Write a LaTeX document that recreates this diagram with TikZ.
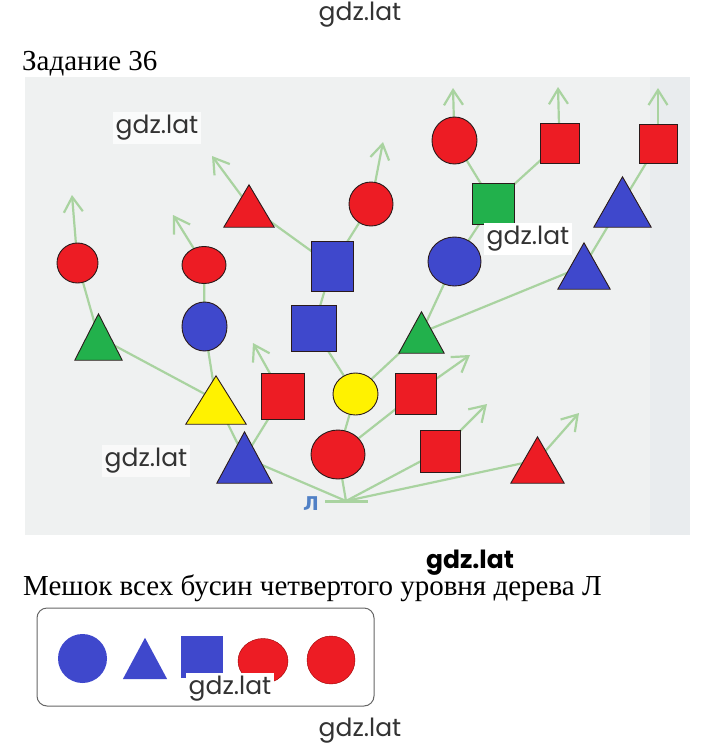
\documentclass[tikz,border=0pt]{standalone}
\usepackage{fontspec}
\setmainfont{Liberation Serif}
\newfontfamily\wmfont{Poppins}
\newfontfamily\lfont{DejaVu Sans}
\usetikzlibrary{shapes.geometric,arrows.meta}
\definecolor{bred}{HTML}{ED1C24}
\definecolor{bblue}{HTML}{3F48CC}
\definecolor{bgreen}{HTML}{22B14C}
\definecolor{byellow}{HTML}{FFF200}
\definecolor{edgec}{HTML}{A9D3A0}
\definecolor{paper}{HTML}{EFF1F1}
\definecolor{paperr}{HTML}{E9ECEE}
\definecolor{outl}{HTML}{2A1A1A}
\definecolor{lblue}{HTML}{5181C6}
\pgfdeclarelayer{bg}
\pgfdeclarelayer{edges}
\pgfsetlayers{bg,edges,main}
\tikzset{
  bead/.style={draw=outl, line width=0.9pt, inner sep=0pt},
  circ/.style={bead, ellipse},
  sq/.style={bead, rectangle},
  trib/.style={rectangle, inner sep=0pt},
  triline/.style={draw=outl, line width=0.9pt},
  edge/.style={draw=edgec, line width=2.2pt},
  arr/.style={edge, -{Straight Barb[length=15pt,width=19pt]}},
  wm/.style={font=\wmfont\fontsize{25}{27}\selectfont, text=black!80, inner sep=3pt},
  bagshape/.style={inner sep=0pt},
  title/.style={font=\fontsize{29}{31}\selectfont, anchor=base west, inner sep=0pt},
}
\newcommand\beadtri[6]{%
  \node[trib, minimum width=#4pt, minimum height=#5pt] (#1) at (#2,#3) {};
  \filldraw[triline, fill=#6] (#1.south west) -- (#1.north) -- (#1.south east) -- cycle;}
\begin{document}
\begin{tikzpicture}[x=1pt,y=-1pt]
\useasboundingbox (0,0) rectangle (720,745);
\begin{pgfonlayer}{bg}
  \fill[white] (0,0) rectangle (720,745);
  \fill[paper] (25,77) rectangle (690,535);
  \fill[paperr] (650,77) rectangle (690,535);
\end{pgfonlayer}

% texts
\node[title] (t1) at (22,70) {Задание 36};
\node[title] (t2) at (23,595) {Мешок всех бусин четвертого уровня дерева Л};

% root
\node[text=lblue, font=\lfont\bfseries\fontsize{19}{20}\selectfont, inner sep=0pt] (lbl) at (311,504) {Л};
\coordinate (root) at (346,501);
\coordinate (rootl) at (325,501);
\coordinate (rootr) at (368,501);

% level 1
\beadtri{bt1}{244.5}{457.5}{55}{51}{bblue}
\node[circ, fill=bred, minimum width=54pt, minimum height=49pt] (rc1) at (338,454.5) {};
\node[sq, fill=bred, minimum width=40pt, minimum height=42pt] (rs1) at (440,451) {};
\beadtri{rt1}{537.5}{460}{53}{46}{bred}

% level 2
\beadtri{yt2}{216}{400}{60}{48}{byellow}
\node[sq, fill=bred, minimum width=43pt, minimum height=46pt] (rs2a) at (282.5,396) {};
\node[circ, fill=byellow, minimum width=45pt, minimum height=42pt] (yc2) at (355.5,394) {};
\node[sq, fill=bred, minimum width=41pt, minimum height=41pt] (rs2b) at (415.5,393.5) {};

% level 3
\beadtri{gt3a}{98.5}{337}{47}{46}{bgreen}
\node[circ, fill=bblue, minimum width=45pt, minimum height=49pt] (bc3) at (204.5,326.5) {};
\node[sq, fill=bblue, minimum width=45pt, minimum height=46pt] (bs3) at (313.5,328) {};
\beadtri{gt3b}{421.5}{332.5}{45}{41}{bgreen}

% level 4
\node[circ, fill=bred, minimum width=41pt, minimum height=40pt] (rc4a) at (77.5,263) {};
\node[circ, fill=bred, minimum width=44pt, minimum height=37pt] (rc4b) at (204,265) {};
\node[sq, fill=bblue, minimum width=42pt, minimum height=50pt] (bs4) at (332,266) {};
\node[circ, fill=bblue, minimum width=53pt, minimum height=49pt] (bc4) at (454.5,261.5) {};
\beadtri{bt4}{584}{266}{52}{46}{bblue}

% level 5
\beadtri{rt5}{249}{206}{50}{42}{bred}
\node[circ, fill=bred, minimum width=44pt, minimum height=44pt] (rc5) at (371,204) {};
\node[sq, fill=bgreen, minimum width=42pt, minimum height=41pt] (gs5) at (493,203.5) {};
\beadtri{bt5}{622.5}{202}{57}{50}{bblue}

% level 6
\node[circ, fill=bred, minimum width=45pt, minimum height=47pt] (rc6) at (454.5,140.5) {};
\node[sq, fill=bred, minimum width=39pt, minimum height=40pt] (rs6a) at (559.5,143) {};
\node[sq, fill=bred, minimum width=38pt, minimum height=39pt] (rs6b) at (658,143.5) {};

% arrow ends
\coordinate (a1) at (72,195);
\coordinate (a2) at (173,215);
\coordinate (a3) at (212,156);
\coordinate (a4) at (383,142);
\coordinate (a5) at (453,88);
\coordinate (a6) at (558,87);
\coordinate (a7) at (658,88);
\coordinate (a8) at (253,343);
\coordinate (a9) at (470,355);
\coordinate (a10) at (487,404);
\coordinate (a11) at (579,413);

\begin{pgfonlayer}{edges}
  \draw[edge, line width=3pt] (rootl) -- (rootr);
  \draw[edge] (root) -- (bt1.center);
  \draw[edge] (root) -- (rc1.center);
  \draw[edge] (root) -- (rs1.center);
  \draw[edge] (root) -- (rt1.center);
  \draw[edge] (bt1.center) -- (yt2.center);
  \draw[edge] (bt1.center) -- (rs2a.center);
  \draw[edge] (rc1.center) -- (yc2.center);
  \draw[edge] (rc1.center) -- (rs2b.center);
  \draw[edge] (yt2.center) -- (gt3a.center);
  \draw[edge] (yt2.center) -- (bc3.center);
  \draw[edge] (yc2.center) -- (bs3.center);
  \draw[edge] (yc2.center) -- (gt3b.center);
  \draw[edge] (gt3a.center) -- (rc4a.center);
  \draw[edge] (bc3.center) -- (rc4b.center);
  \draw[edge] (bs3.center) -- (bs4.center);
  \draw[edge] (gt3b.center) -- (bc4.center);
  \draw[edge] (gt3b.center) -- (bt4.center);
  \draw[edge] (bs4.center) -- (rt5.center);
  \draw[edge] (bs4.center) -- (rc5.center);
  \draw[edge] (bc4.center) -- (gs5.center);
  \draw[edge] (bt4.center) -- (bt5.center);
  \draw[edge] (gs5.center) -- (rc6.center);
  \draw[edge] (gs5.center) -- (rs6a.center);
  \draw[edge] (bt5.center) -- (rs6b.center);
  \draw[arr] (rc4a.center) -- (a1);
  \draw[arr] (rc4b.center) -- (a2);
  \draw[arr] (rt5.center) -- (a3);
  \draw[arr] (rc5.center) -- (a4);
  \draw[arr] (rc6.center) -- (a5);
  \draw[arr] (rs6a.center) -- (a6);
  \draw[arr] (rs6b.center) -- (a7);
  \draw[arr] (rs2a.center) -- (a8);
  \draw[arr] (rs2b.center) -- (a9);
  \draw[arr] (rs1.center) -- (a10);
  \draw[arr] (rt1.center) -- (a11);
\end{pgfonlayer}

% bag
\node[draw=black!60, line width=1pt, rounded corners=10pt, minimum width=337pt, minimum height=98pt, inner sep=0pt] (bag) at (205.5,657) {};
\node[bagshape, circle, fill=bblue, minimum size=49pt] (m1) at (82.5,658.5) {};
\node[trib, minimum width=44pt, minimum height=41pt] (m2) at (145,658.5) {};
\fill[bblue] (m2.south west) -- (m2.north) -- (m2.south east) -- cycle;
\node[bagshape, rectangle, fill=bblue, minimum width=42pt, minimum height=42pt] (m3) at (202,657) {};
\node[bagshape, ellipse, fill=bred, draw=red!60!black, line width=0.4pt, minimum width=50pt, minimum height=45pt] (m4) at (263,661) {};
\node[bagshape, ellipse, fill=bred, draw=red!60!black, line width=0.4pt, minimum width=48pt, minimum height=48pt] (m5) at (331,660) {};

% watermarks
\node[wm] (w1) at (360,15) {gdz.lat};
\node[wm, fill=white!70!paper] (w2) at (157,128) {gdz.lat};
\node[wm, fill=white] (w3) at (528,239) {gdz.lat};
\node[wm, fill=white!60!paper] (w4) at (146,461) {gdz.lat};
\node[wm, font=\wmfont\bfseries\fontsize{25}{27}\selectfont, text=black, fill=white, inner sep=1pt] (w5) at (470,563) {gdz.lat};
\node[wm, fill=white] (w6) at (230,689) {gdz.lat};
\node[wm] (w7) at (360,731) {gdz.lat};
\end{tikzpicture}
\end{document}
